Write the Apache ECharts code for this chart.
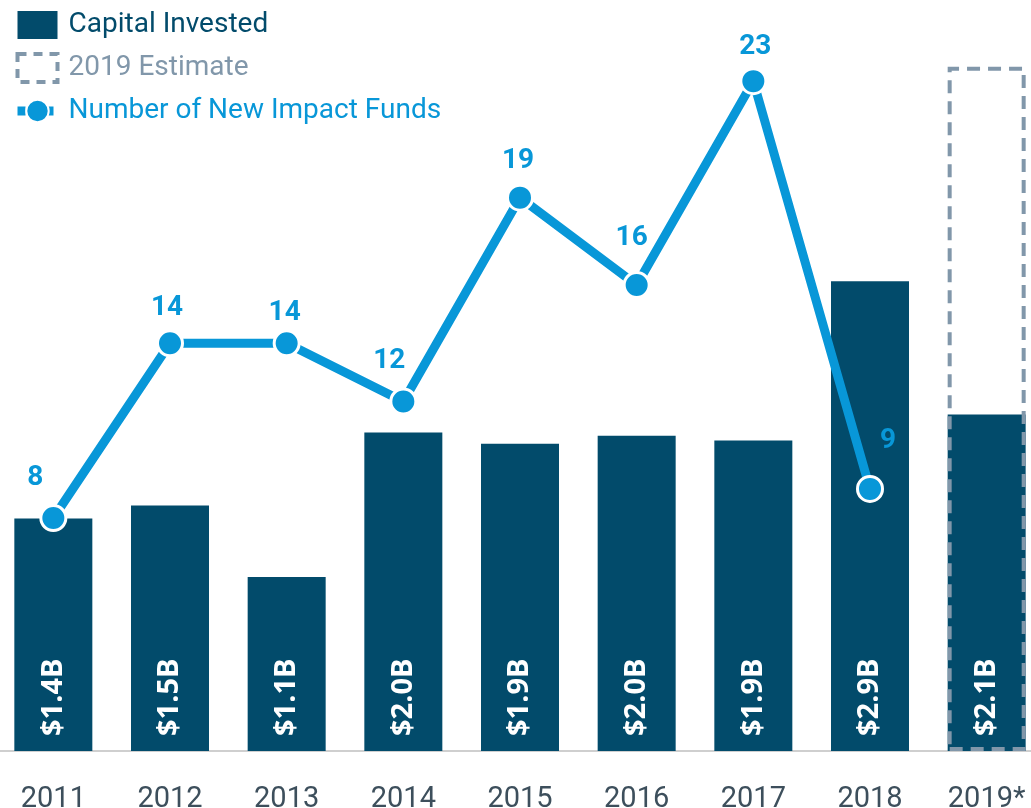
<!DOCTYPE html>
<html><head><meta charset="utf-8">
<script src="https://cdn.jsdelivr.net/npm/echarts@6/dist/echarts.min.js"></script>
<style>html,body{margin:0;padding:0;background:#fff;overflow:hidden;width:1031px;height:808px}#c{position:absolute;left:-5px;top:0;width:1050px;height:808px}</style>
</head><body><div id="c"></div>
<script>
const years = ['2011','2012','2013','2014','2015','2016','2017','2018','2019*'];
const capital = [1.43, 1.51, 1.07, 1.96, 1.89, 1.94, 1.91, 2.89, 2.07];
const capitalLabels = ['$1.4B','$1.5B','$1.1B','$2.0B','$1.9B','$2.0B','$1.9B','$2.9B','$2.1B'];
const estimate = [null, null, null, null, null, null, null, null, 4.21];
const funds = [8, 14, 14, 12, 19, 16, 23, 9, null];
const fundLabelOffsets = [[-18,-4],[-3,1],[-2,6],[-14,-5],[-2,-1],[-5,-11],[2,2],[18,-12],[0,0]];

const DARK = '#024b6b', BLUE = '#0897d8', GRAY = '#8197aa';
const FONT = 'Roboto';
const chart = echarts.init(document.getElementById('c'));
chart.setOption({
  animation: false,
  textStyle: { fontFamily: FONT },
  legend: {
    orient: 'vertical', left: 13, top: 6, itemWidth: 40, itemHeight: 28, itemGap: 13,
    textStyle: { fontSize: 28, fontFamily: FONT, padding: [0,0,0,6] },
    data: [
      { name: 'Capital Invested', icon: 'rect', textStyle: { color: DARK } },
      { name: '2019 Estimate', icon: 'rect', textStyle: { color: GRAY },
        itemStyle: { color: 'rgba(0,0,0,0)', borderColor: GRAY, borderWidth: 4, borderType: [9,7] } },
      { name: 'Number of New Impact Funds', textStyle: { color: BLUE },
        lineStyle: { width: 9, color: BLUE, type: [8,6] } }
    ]
  },
  grid: { left: 0, right: 0, top: 52, bottom: 57, containLabel: false, outerBoundsMode: 'none' },
  xAxis: {
    type: 'category', data: years,
    axisLine: { lineStyle: { color: '#cfcfcf', width: 2 } },
    axisTick: { show: false },
    axisLabel: { color: '#3d4f5c', fontSize: 29, margin: 34, fontFamily: FONT }
  },
  yAxis: [
    { type: 'value', min: 0, max: 4.3, show: false, splitLine: { show: false } },
    { type: 'value', min: 0, max: 24, show: false, splitLine: { show: false } }
  ],
  series: [
    {
      name: 'Capital Invested', type: 'bar', data: capital, barWidth: 78, barGap: '-100%',
      itemStyle: { color: DARK }, z: 2,
      label: {
        show: true, position: 'insideBottom', rotate: 90, align: 'left', verticalAlign: 'middle',
        distance: 15, color: '#fff', fontSize: 29, fontWeight: 'bold', fontFamily: 'Open Sans',
        formatter: p => capitalLabels[p.dataIndex]
      }
    },
    {
      name: '2019 Estimate', type: 'bar', data: estimate, barWidth: 78, barGap: '-100%', z: 3,
      itemStyle: { color: 'rgba(0,0,0,0)', borderColor: GRAY, borderWidth: 4, borderType: [13,8] }
    },
    {
      name: 'Number of New Impact Funds', type: 'line', yAxisIndex: 1, data: funds.map((v,i)=>({
        value: v, label: { offset: fundLabelOffsets[i] } })),
      z: 5, lineStyle: { color: BLUE, width: 9 }, itemStyle: { color: BLUE, borderColor: '#fff', borderWidth: 3 },
      symbol: 'circle', symbolSize: 25, showAllSymbol: true,
      label: { show: true, position: 'top', distance: 8, color: BLUE, fontSize: 28, fontWeight: 'bold', fontFamily: FONT }
    }
  ]
});
</script></body></html>
